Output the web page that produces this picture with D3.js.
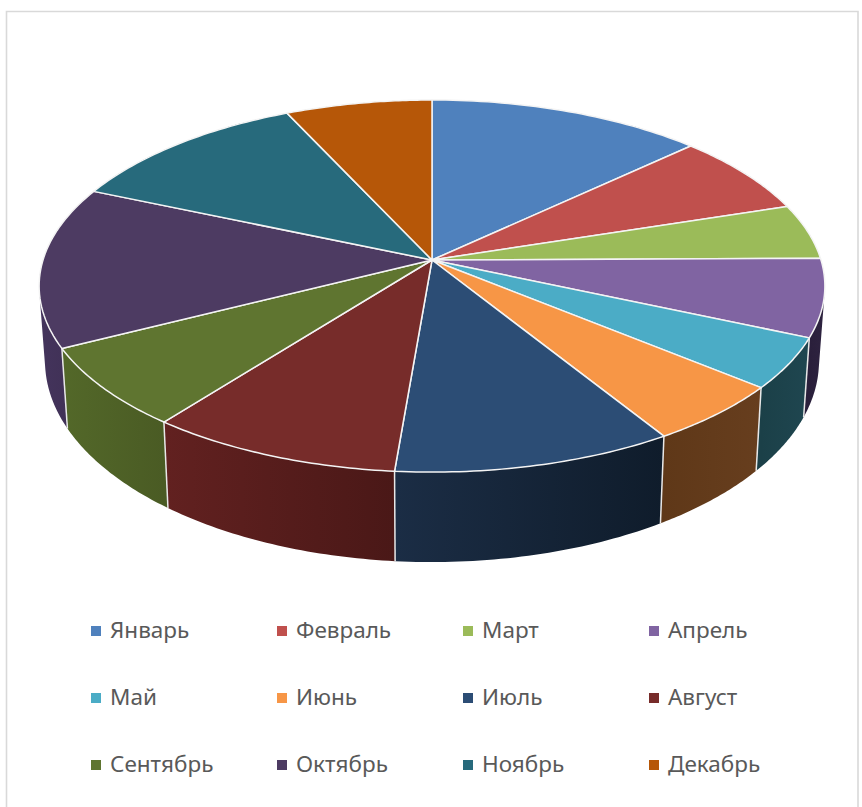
<!DOCTYPE html>
<html><head><meta charset="utf-8">
<style>html,body{margin:0;padding:0;background:#fff}svg{display:block}</style>
<script src="https://cdn.jsdelivr.net/npm/d3@7"></script>
</head><body>
<svg id="c" width="862" height="807"></svg>
<script>
const months = ["Январь","Февраль","Март","Апрель","Май","Июнь","Июль","Август","Сентябрь","Октябрь","Ноябрь","Декабрь"];
const values = [13.0,7.05,4.8,6.75,4.4,5.2,10.12,9.18,7.0,14.0,11.6,6.9];
const topColors = ["#4f81bd","#c0504d","#9bbb59","#8064a2","#4bacc6","#f79646","#2c4d75","#772c2a","#5f7530","#4d3b62","#276a7c","#b65708"];
const wallFrom = ["#3a5f8c","#8e3b39","#728a42","#2e2340","#1f4650","#673e1e","#1b2d45","#622120","#536829","#44345c","#1d4e5b","#864006"];
const wallTo   = ["#2f4d72","#742f2e","#5d7136","#2a1f3b","#1b4048","#5f3818","#0f1c2b","#4a1817","#4a5b24","#3d2e52","#18424d","#703505"];

const svg = d3.select("#c");
const defs = svg.append("defs");

// perspective projection of the unit disc
const cx = 432, cy = 260, A = 389, B = 182.4, k = 0.14;
const wallScaleX = 0.985, wallScaleY = 1.08, wallDrop = 73;
function topPt(a){
  const u = Math.sin(a), v = -Math.cos(a), w = 1 - k*v;
  return [cx + A*u/w, cy + B*v/w];
}
function lowPt(a){
  const p = topPt(a);
  return [cx + (p[0]-cx)*wallScaleX, cy + (p[1]-cy)*wallScaleY + wallDrop];
}
const line = d3.line();
const arcs = d3.pie().sort(null).value(d=>d)(values);
const samples = (d)=> d3.range(0,41).map(i=>d.startAngle+(d.endAngle-d.startAngle)*i/40);

// frame
svg.append("path").attr("d",`M6.5,807V11.5H858V807`).attr("fill","none").attr("stroke","#d9d9d9").attr("stroke-width",1.6);

// walls: built from consistently wound quads so the silhouette tangent is filled
arcs.forEach((d,i)=>{
  const s = samples(d), t = s.map(topPt), b = s.map(lowPt);
  const xs = t.map(p=>p[0]);
  const g = defs.append("linearGradient").attr("id","w"+i).attr("gradientUnits","userSpaceOnUse")
    .attr("x1",d3.min(xs)).attr("x2",d3.max(xs)).attr("y1",0).attr("y2",0);
  g.append("stop").attr("offset",0).attr("stop-color",i>=6?wallFrom[i]:wallTo[i]);
  g.append("stop").attr("offset",1).attr("stop-color",i>=6?wallTo[i]:wallFrom[i]);
  const quads = d3.range(s.length-1).map(j=>line(d3.polygonHull([t[j],t[j+1],b[j+1],b[j]]))+"Z").join("");
  svg.append("path").attr("d",quads).attr("fill",`url(#w${i})`);
});
// wall separators on the visible front
arcs.forEach(d=>{
  const a = d.startAngle;
  if(-Math.cos(a) > 0.05){
    svg.append("path").attr("d",line([topPt(a),lowPt(a)])).attr("stroke","#e8e8e8").attr("stroke-width",1.5).attr("fill","none");
  }
});
// top faces
arcs.forEach((d,i)=>{
  const pts = [[cx,cy]].concat(samples(d).map(topPt));
  svg.append("path").attr("d",line(pts)+"Z").attr("fill",topColors[i])
    .attr("stroke","#f4f4f4").attr("stroke-width",1.5).attr("stroke-linejoin","round");
});

// legend
const legX = d3.scalePoint().domain([0,1,2,3]).range([91,649]);
const legY = d3.scalePoint().domain([0,1,2]).range([631,765]);
months.forEach((m,i)=>{
  const x = legX(i%4), y = legY(Math.floor(i/4));
  svg.append("rect").attr("x",x).attr("y",y-5).attr("width",10).attr("height",10).attr("fill",topColors[i]);
  svg.append("text").attr("x",x+19).attr("y",y+7).text(m)
    .attr("font-family","'Noto Sans',sans-serif").attr("font-size",22.5).attr("fill","#595959");
});
</script>
</body></html>
